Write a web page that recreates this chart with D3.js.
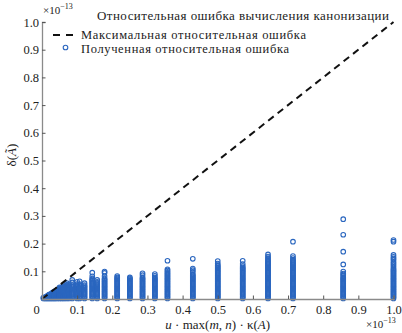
<!DOCTYPE html>
<html><head><meta charset="utf-8">
<script src="https://cdnjs.cloudflare.com/ajax/libs/d3/7.8.5/d3.min.js"></script>
<style>body{margin:0;background:#fff}svg{display:block}text{font-family:"Liberation Serif","Times New Roman",serif;fill:#222}</style>
</head><body><svg id="c" width="402" height="333"></svg>
<script>
const xTicks=[0.1,0.2,0.3,0.4,0.5,0.6,0.7,0.8,0.9,1.0];
const yTicks=[0.1,0.2,0.3,0.4,0.5,0.6,0.7,0.8,0.9,1.0];
const maxLine=[[0,0],[1,1]];
const colX=[0.004,0.008,0.012,0.016,0.020,0.024,0.028,0.032,0.036,0.040,0.045,0.050,0.055,0.060,0.065,0.071,0.077,0.086,0.100,0.107,0.121,0.143,0.157,0.178,0.214,0.250,0.286,0.321,0.357,0.429,0.500,0.571,0.643,0.714,0.857,1.000];
const colY=[
[0.002,0.005],
[0.002,0.006],
[0.002,0.006,0.009],
[0.002,0.006,0.010,0.012],
[0.002,0.006,0.010,0.014,0.016],
[0.002,0.006,0.010,0.014,0.018],
[0.002,0.006,0.010,0.014,0.018,0.021],
[0.002,0.006,0.010,0.014,0.018,0.022,0.025],
[0.002,0.006,0.010,0.014,0.018,0.022,0.026,0.028],
[0.002,0.006,0.010,0.014,0.018,0.022,0.026,0.030],
[0.002,0.006,0.010,0.014,0.018,0.022,0.026,0.030,0.034],
[0.002,0.006,0.010,0.014,0.018,0.022,0.026,0.030,0.034,0.038,0.042],
[0.002,0.006,0.010,0.014,0.018,0.022,0.026,0.030,0.034,0.038,0.041],
[0.002,0.006,0.010,0.014,0.018,0.022,0.026,0.030,0.034,0.038,0.042,0.047],
[0.002,0.006,0.010,0.014,0.018,0.022,0.026,0.030,0.034,0.038,0.042,0.046,0.054],
[0.002,0.006,0.010,0.014,0.018,0.022,0.026,0.030,0.034,0.038,0.042,0.046,0.050,0.057],
[0.002,0.006,0.010,0.014,0.018,0.022,0.026,0.030,0.034,0.038,0.042,0.046,0.052],
[0.002,0.006,0.010,0.014,0.018,0.022,0.026,0.030,0.034,0.038,0.042,0.046,0.050,0.060,0.069],
[0.002,0.006,0.010,0.014,0.018,0.022,0.026,0.030,0.034,0.038,0.042,0.046,0.050,0.054,0.062],
[0.002,0.006,0.010,0.014,0.018,0.022,0.026,0.030,0.034,0.038,0.042,0.046,0.050,0.054,0.064],
[0.002,0.006,0.010,0.014,0.018,0.022,0.026,0.030,0.034,0.038,0.042,0.046,0.050,0.057],
[0.002,0.006,0.010,0.014,0.018,0.022,0.026,0.030,0.034,0.038,0.042,0.046,0.050,0.054,0.058,0.062,0.066,0.070,0.074,0.082,0.095],
[0.002,0.006,0.010,0.014,0.018,0.022,0.026,0.030,0.034,0.038,0.042,0.046,0.050,0.054,0.058,0.062,0.069],
[0.002,0.006,0.010,0.014,0.018,0.022,0.026,0.030,0.034,0.038,0.042,0.046,0.050,0.054,0.058,0.062,0.066,0.070,0.074,0.082,0.094,0.099],
[0.002,0.006,0.010,0.014,0.018,0.022,0.026,0.030,0.034,0.038,0.042,0.046,0.050,0.054,0.058,0.062,0.066,0.070,0.074,0.078,0.083],
[0.002,0.006,0.010,0.014,0.018,0.022,0.026,0.030,0.034,0.038,0.042,0.046,0.050,0.054,0.058,0.062,0.066,0.070,0.074,0.078],
[0.002,0.006,0.010,0.014,0.018,0.022,0.026,0.030,0.034,0.038,0.042,0.046,0.050,0.054,0.058,0.062,0.066,0.070,0.074,0.078,0.086,0.093],
[0.002,0.006,0.010,0.014,0.018,0.022,0.026,0.030,0.034,0.038,0.042,0.046,0.050,0.054,0.058,0.062,0.066,0.070,0.074,0.078,0.084,0.090],
[0.002,0.006,0.010,0.014,0.018,0.022,0.026,0.030,0.034,0.038,0.042,0.046,0.050,0.054,0.058,0.062,0.066,0.070,0.074,0.078,0.082,0.086,0.090,0.094,0.098,0.103,0.107,0.138],
[0.002,0.006,0.010,0.014,0.018,0.022,0.026,0.030,0.034,0.038,0.042,0.046,0.050,0.054,0.058,0.062,0.066,0.070,0.074,0.078,0.082,0.086,0.090,0.098,0.104,0.110,0.145],
[0.002,0.006,0.010,0.014,0.018,0.022,0.026,0.030,0.034,0.038,0.042,0.046,0.050,0.054,0.058,0.062,0.066,0.070,0.074,0.078,0.082,0.086,0.090,0.094,0.098,0.102,0.106,0.110,0.114,0.118,0.122,0.128,0.137],
[0.002,0.006,0.010,0.014,0.018,0.022,0.026,0.030,0.034,0.038,0.042,0.046,0.050,0.054,0.058,0.062,0.066,0.070,0.074,0.078,0.082,0.086,0.090,0.094,0.098,0.102,0.106,0.110,0.114,0.119,0.126,0.138],
[0.002,0.006,0.010,0.014,0.018,0.022,0.026,0.030,0.034,0.038,0.042,0.046,0.050,0.054,0.058,0.062,0.066,0.070,0.074,0.078,0.082,0.086,0.090,0.094,0.098,0.102,0.106,0.110,0.114,0.118,0.122,0.126,0.130,0.134,0.138,0.143,0.148,0.153,0.161],
[0.002,0.006,0.010,0.014,0.018,0.022,0.026,0.030,0.034,0.038,0.042,0.046,0.050,0.054,0.058,0.062,0.066,0.070,0.074,0.078,0.082,0.086,0.090,0.094,0.098,0.102,0.106,0.110,0.114,0.118,0.122,0.126,0.130,0.134,0.138,0.142,0.148,0.155,0.207],
[0.002,0.006,0.010,0.014,0.018,0.022,0.026,0.030,0.034,0.038,0.042,0.046,0.050,0.054,0.058,0.062,0.066,0.070,0.074,0.078,0.083,0.088,0.092,0.099,0.125,0.171,0.232,0.288],
[0.002,0.006,0.010,0.014,0.018,0.022,0.026,0.030,0.034,0.038,0.042,0.046,0.050,0.054,0.058,0.062,0.066,0.070,0.074,0.078,0.082,0.086,0.090,0.094,0.098,0.102,0.106,0.110,0.116,0.122,0.128,0.134,0.141,0.146,0.152,0.159,0.207,0.213]
];
const titleText="Относительная ошибка вычисления канонизации";
const legendLabels=["Максимальная относительная ошибка","Полученная относительная ошибка"];

const svg=d3.select("#c");
const L=42,R=393.5,T=22,B=299;
const x=d3.scaleLinear().domain([0,1]).range([L,R]);
const y=d3.scaleLinear().domain([0,1]).range([B,T]);
const blue="#2a66bf";
const pts=[];
colX.forEach((cx,i)=>colY[i].forEach(v=>pts.push([cx,v])));

svg.append("g").selectAll("circle").data(pts).join("circle")
 .attr("cx",d=>x(d[0])).attr("cy",d=>y(d[1])).attr("r",2.3)
 .attr("fill","none").attr("stroke",blue).attr("stroke-width",1.1);

svg.append("path").datum(maxLine)
 .attr("d",d3.line().x(d=>x(d[0])).y(d=>y(d[1])))
 .attr("stroke","#111").attr("stroke-width",2).attr("stroke-dasharray","7,5").attr("fill","none");

const axC="#8a8a8a";
const xa=svg.append("g").attr("transform",`translate(0,${B})`)
 .call(d3.axisBottom(x).tickValues(xTicks).tickSize(-3.5).tickPadding(6).tickFormat(d3.format(".1f")));
const ya=svg.append("g").attr("transform",`translate(${L},0)`)
 .call(d3.axisLeft(y).tickValues(yTicks).tickSize(-3.5).tickPadding(3).tickFormat(d3.format(".1f")));
[xa,ya].forEach(g=>{
 g.select(".domain").attr("stroke",axC).attr("stroke-width",1.3);
 g.selectAll(".tick line").attr("stroke","#555");
 g.selectAll("text").attr("font-family","Liberation Serif").attr("font-size",12.5).attr("fill","#222");
});
svg.append("text").attr("x",36.5).attr("y",314).attr("text-anchor","middle").attr("font-size",12.5).text("0");

// exponents
function expo(tx,ty){
 const t=svg.append("text").attr("x",tx).attr("y",ty).attr("font-size",11);
 t.append("tspan").text("×10");
 t.append("tspan").attr("dy",-5).attr("font-size",8).text("−13");
}
expo(43,14);
expo(366,328);

// title
svg.append("text").attr("x",97).attr("y",20).attr("font-size",13).attr("textLength",292).attr("lengthAdjust","spacing").text(titleText);

// legend
svg.append("line").attr("x1",53).attr("x2",73).attr("y1",35).attr("y2",35)
 .attr("stroke","#111").attr("stroke-width",2).attr("stroke-dasharray","7,6");
svg.append("circle").attr("cx",65.5).attr("cy",47.5).attr("r",2.3).attr("fill","none").attr("stroke",blue).attr("stroke-width",1.1);
svg.append("text").attr("x",81).attr("y",38.5).attr("font-size",12.5).attr("textLength",225).attr("lengthAdjust","spacing").text(legendLabels[0]);
svg.append("text").attr("x",81).attr("y",52.5).attr("font-size",12.5).attr("textLength",208).attr("lengthAdjust","spacing").text(legendLabels[1]);

// axis labels
const xl=svg.append("text").attr("x",(L+R)/2).attr("y",329).attr("text-anchor","middle").attr("font-size",13);
xl.append("tspan").attr("font-style","italic").text("u");
xl.append("tspan").text(" · max(");
xl.append("tspan").attr("font-style","italic").text("m");
xl.append("tspan").text(", ");
xl.append("tspan").attr("font-style","italic").text("n");
xl.append("tspan").text(") · κ(");
xl.append("tspan").attr("font-style","italic").text("A");
xl.append("tspan").text(")");

const yl=svg.append("text").attr("transform","translate(16,155) rotate(-90)").attr("text-anchor","middle").attr("font-size",13);
yl.append("tspan").text("δ(");
yl.append("tspan").attr("font-style","italic").text("Ã");
yl.append("tspan").text(")");
</script></body></html>
